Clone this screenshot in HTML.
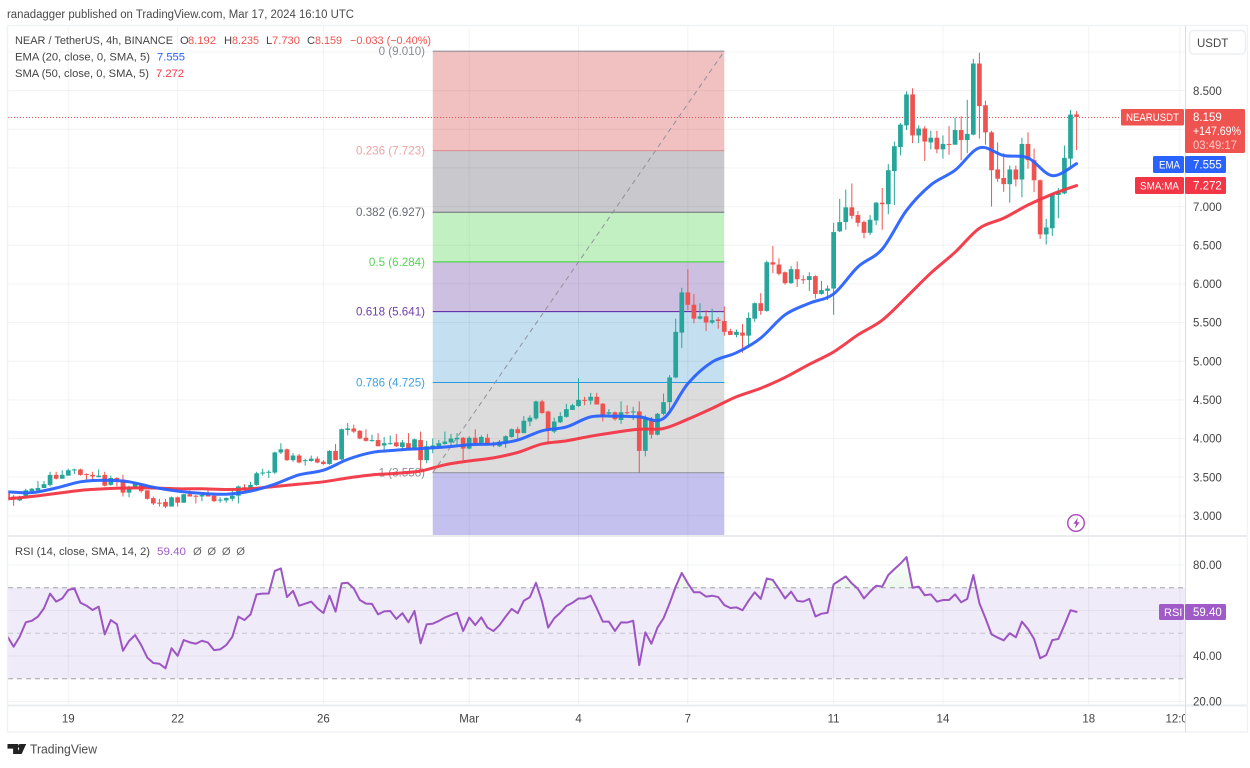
<!DOCTYPE html>
<html lang="en">
<head>
<meta charset="utf-8">
<title>NEAR / TetherUS chart</title>
<style>
html,body{margin:0;padding:0;background:#fff;}
body{width:1250px;height:768px;overflow:hidden;}
svg{display:block;font-family:"Liberation Sans",sans-serif;}
text{font-family:"Liberation Sans",sans-serif;}
</style>
</head>
<body>
<svg id="chart" xmlns="http://www.w3.org/2000/svg" width="1250" height="768" viewBox="0 0 1250 768">
  <defs>
    <clipPath id="main-clip"><rect x="8" y="26" width="1177" height="509"/></clipPath>
    <clipPath id="rsi-clip"><rect x="8" y="537" width="1177" height="168"/></clipPath>
    <clipPath id="time-clip"><rect x="8" y="706" width="1177" height="26"/></clipPath>
    <clipPath id="overbought-clip"><rect x="8" y="537" width="1177" height="51"/></clipPath>
    <linearGradient id="overbought-gradient" x1="0" y1="0" x2="0" y2="1">
      <stop offset="0" stop-color="#4caf50" stop-opacity="0.02"/>
      <stop offset="1" stop-color="#4caf50" stop-opacity="0.32"/>
    </linearGradient>
  </defs>

  <text x="7" y="18" font-size="11.5" fill="#4a4a4a" textLength="347" lengthAdjust="spacingAndGlyphs">ranadagger published on TradingView.com, Mar 17, 2024 16:10 UTC</text>

  <g id="main-layer" clip-path="url(#main-clip)"></g>
  <g id="rsi-layer" clip-path="url(#rsi-clip)"></g>

  <g fill="none">
    <rect x="7.5" y="25.5" width="1240" height="706.5" stroke="#f0f2f6" stroke-width="1.5"/>
    <line x1="8" y1="536" x2="1247" y2="536" stroke="#eaecf0" stroke-width="2"/>
    <line x1="8" y1="705.5" x2="1247" y2="705.5" stroke="#eaecf0" stroke-width="2"/>
    <line x1="1185.5" y1="26" x2="1185.5" y2="732" stroke="#d9dce3" stroke-width="1"/>
  </g>

  <g font-size="11.2">
    <text x="15" y="44" fill="#444" textLength="158" lengthAdjust="spacingAndGlyphs">NEAR / TetherUS, 4h, BINANCE</text>
    <text x="180" y="44" fill="#444">O</text>
    <text x="188" y="44" fill="#ef5350" textLength="28" lengthAdjust="spacingAndGlyphs">8.192</text>
    <text x="224" y="44" fill="#444">H</text>
    <text x="232" y="44" fill="#ef5350" textLength="27" lengthAdjust="spacingAndGlyphs">8.235</text>
    <text x="266" y="44" fill="#444">L</text>
    <text x="272" y="44" fill="#ef5350" textLength="28" lengthAdjust="spacingAndGlyphs">7.730</text>
    <text x="307" y="44" fill="#444">C</text>
    <text x="315" y="44" fill="#ef5350" textLength="27" lengthAdjust="spacingAndGlyphs">8.159</text>
    <text x="350" y="44" fill="#ef5350" textLength="81" lengthAdjust="spacingAndGlyphs">−0.033 (−0.40%)</text>
    <text x="15" y="60.5" fill="#444" textLength="135" lengthAdjust="spacingAndGlyphs">EMA (20, close, 0, SMA, 5)</text>
    <text x="157" y="60.5" fill="#2962ff" textLength="28" lengthAdjust="spacingAndGlyphs">7.555</text>
    <text x="15" y="77" fill="#444" textLength="134" lengthAdjust="spacingAndGlyphs">SMA (50, close, 0, SMA, 5)</text>
    <text x="156" y="77" fill="#f23645" textLength="28" lengthAdjust="spacingAndGlyphs">7.272</text>
    <text x="15" y="555" fill="#444" textLength="135" lengthAdjust="spacingAndGlyphs">RSI (14, close, SMA, 14, 2)</text>
    <text x="157" y="555" fill="#a05bc8" textLength="29" lengthAdjust="spacingAndGlyphs">59.40</text>
    <text x="193" y="555" fill="#666" textLength="52" lengthAdjust="spacing">Ø Ø Ø Ø</text>
  </g>

  <g id="axis-layer"></g>
  <g id="time-layer" clip-path="url(#time-clip)"></g>

  <g>
    <rect x="1189.5" y="30.5" width="56" height="23.5" rx="4" fill="#fff" stroke="#eceef2" stroke-width="1.5"/>
    <text x="1197" y="47" font-size="11.5" fill="#444">USDT</text>
  </g>

  <g font-size="11.5">
    <rect x="1121" y="109" width="63" height="16.5" rx="1.5" fill="#ef5350"/>
    <text x="1126" y="121" fill="#fff" font-size="11" textLength="53" lengthAdjust="spacingAndGlyphs">NEARUSDT</text>
    <rect x="1185" y="109" width="60" height="44" rx="1.5" fill="#ef5350"/>
    <text x="1193" y="121" fill="#fff">8.159</text>
    <text x="1193" y="135" fill="#fff" textLength="48" lengthAdjust="spacingAndGlyphs">+147.69%</text>
    <text x="1193" y="149" fill="#fbc9c7" textLength="44" lengthAdjust="spacingAndGlyphs">03:49:17</text>
    <rect x="1153" y="156" width="31" height="17" rx="1.5" fill="#2962ff"/>
    <text x="1159" y="168.5" fill="#fff" font-size="11" textLength="21" lengthAdjust="spacingAndGlyphs">EMA</text>
    <rect x="1185" y="156" width="41" height="17" rx="1.5" fill="#2962ff"/>
    <text x="1193" y="168.5" fill="#fff">7.555</text>
    <rect x="1135" y="177" width="49" height="17" rx="1.5" fill="#f23645"/>
    <text x="1140" y="189.5" fill="#fff" font-size="11" textLength="39" lengthAdjust="spacingAndGlyphs">SMA:MA</text>
    <rect x="1185" y="177" width="41" height="17" rx="1.5" fill="#f23645"/>
    <text x="1193" y="189.5" fill="#fff">7.272</text>
    <rect x="1159" y="604" width="25" height="16" rx="1.5" fill="#a05bc8"/>
    <text x="1164" y="616" fill="#fff" font-size="11">RSI</text>
    <rect x="1185" y="604" width="41" height="16" rx="1.5" fill="#a05bc8"/>
    <text x="1193" y="616" fill="#fff">59.40</text>
  </g>

  <g>
    <path d="M7.5 744h10.5v10h-4.9v-5.4H7.5z M26.2 744l-4.6 10h-5l4.6-10z" fill="#222"/>
    <circle cx="20.2" cy="746.2" r="2.2" fill="#222"/>
    <text x="30" y="753.5" font-size="13" fill="#4a4a4a" textLength="67" lengthAdjust="spacingAndGlyphs">TradingView</text>
  </g>
</svg>

<script>
// ---- bar indexing: bar 0 is Feb 19 00:00, one bar per 4 hours ----
const firstBar = -10;

const opens = [
3.29,3.25,3.20,3.25,3.32,3.33,3.36,3.40,3.53,3.48,
3.52,3.59,3.60,3.54,3.53,3.50,3.53,3.40,3.49,3.47,
3.30,3.36,3.40,3.33,3.23,3.17,3.18,3.12,3.24,3.17,
3.28,3.26,3.25,3.27,3.26,3.20,3.20,3.22,3.26,3.37,
3.35,3.40,3.55,3.56,3.56,3.82,3.86,3.72,3.78,3.71,
3.71,3.74,3.70,3.67,3.84,3.73,4.11,4.13,4.10,4.01,
3.97,3.98,3.91,3.93,3.95,3.89,3.94,3.88,3.98,3.72,
3.89,3.90,3.93,3.95,3.99,4.01,3.87,4.01,3.94,4.01,
3.93,3.90,3.94,4.02,4.12,4.07,4.22,4.26,4.48,4.35,
4.09,4.21,4.28,4.37,4.42,4.50,4.49,4.54,4.45,4.32,
4.34,4.24,4.34,4.34,4.35,3.84,4.25,4.05,4.32,4.47,
4.79,5.37,5.89,5.73,5.55,5.58,5.50,5.54,5.52,5.39,
5.34,5.37,5.33,5.55,5.75,5.65,6.28,6.25,6.15,6.01,
6.19,6.06,6.05,6.10,5.87,5.91,5.94,6.68,6.80,6.99,
6.89,6.80,6.66,6.82,7.05,7.03,7.46,7.77,8.05,8.45,
7.92,8.01,7.83,7.89,7.74,7.81,7.80,7.99,7.86,7.93,
8.85,8.31,7.96,7.48,7.37,7.29,7.48,7.35,7.81,7.60,
7.34,6.64,6.72,7.15,7.17,7.62,8.192];

const highs = [
3.31,3.27,3.26,3.35,3.36,3.45,3.45,3.57,3.57,3.59,
3.61,3.61,3.61,3.55,3.57,3.60,3.57,3.52,3.50,3.53,
3.39,3.43,3.42,3.33,3.25,3.22,3.22,3.25,3.25,3.28,
3.33,3.27,3.29,3.35,3.28,3.24,3.24,3.34,3.39,3.41,
3.44,3.57,3.61,3.59,3.83,3.94,3.87,3.81,3.80,3.74,
3.78,3.77,3.72,3.85,3.93,4.13,4.20,4.18,4.11,4.12,
4.05,4.07,4.02,4.04,4.06,3.98,4.07,4.00,4.09,3.97,
4.00,3.98,4.09,4.06,4.07,4.02,4.03,4.12,4.04,4.06,
3.96,3.98,4.04,4.13,4.15,4.29,4.30,4.49,4.50,4.36,
4.27,4.34,4.45,4.45,4.78,4.54,4.59,4.59,4.46,4.38,
4.35,4.48,4.43,4.41,4.48,4.30,4.28,4.33,4.58,4.82,
5.55,5.95,6.19,5.87,5.75,5.66,5.68,5.57,5.71,5.42,
5.41,5.48,5.63,5.76,5.88,6.30,6.49,6.33,6.16,6.23,
6.29,6.11,6.15,6.11,6.04,5.98,6.79,7.10,7.22,7.30,
6.94,6.82,6.89,7.06,7.24,7.55,7.84,8.08,8.49,8.53,
8.05,8.04,7.98,7.98,7.92,8.04,8.15,8.17,8.38,8.91,
8.99,8.37,7.98,7.83,7.69,7.53,7.53,7.89,7.96,7.75,
7.35,6.84,7.17,7.24,7.79,8.25,8.235];

const lows = [
3.21,3.13,3.19,3.24,3.29,3.33,3.36,3.38,3.47,3.48,
3.52,3.54,3.52,3.47,3.47,3.50,3.38,3.39,3.38,3.25,
3.24,3.35,3.30,3.21,3.14,3.12,3.10,3.12,3.12,3.17,
3.25,3.16,3.19,3.25,3.18,3.17,3.17,3.19,3.16,3.33,
3.32,3.39,3.52,3.49,3.54,3.80,3.71,3.70,3.68,3.65,
3.70,3.68,3.66,3.66,3.72,3.72,4.04,4.07,3.99,3.96,
3.96,3.90,3.85,3.92,3.89,3.84,3.85,3.86,3.59,3.68,
3.81,3.89,3.92,3.90,3.89,3.72,3.86,3.92,3.93,3.91,
3.89,3.89,3.88,4.01,4.00,4.07,4.16,4.24,4.32,3.93,
4.07,4.20,4.27,4.37,4.41,4.43,4.44,4.44,4.22,4.31,
4.23,4.19,4.31,4.24,3.56,3.77,4.00,4.04,4.30,4.32,
4.78,5.17,5.66,5.49,5.54,5.39,5.48,5.42,5.33,5.34,
5.31,5.11,5.20,5.51,5.60,5.64,6.14,6.11,5.99,6.00,
5.96,6.00,5.91,5.81,5.86,5.79,5.60,6.67,6.70,6.84,
6.74,6.59,6.63,6.76,6.70,6.90,7.02,7.66,7.99,7.82,
7.82,7.59,7.74,7.69,7.62,7.67,7.80,7.60,7.69,7.92,
7.88,7.80,7.00,7.32,7.19,7.05,7.26,7.12,7.49,7.19,
6.58,6.51,6.62,6.85,7.16,7.51,7.73];

const closes = [
3.22,3.21,3.25,3.33,3.35,3.36,3.41,3.53,3.48,3.53,
3.59,3.60,3.53,3.53,3.51,3.52,3.39,3.49,3.47,3.30,
3.37,3.42,3.32,3.22,3.16,3.16,3.12,3.24,3.17,3.28,
3.25,3.25,3.27,3.25,3.19,3.21,3.23,3.26,3.38,3.34,
3.40,3.55,3.56,3.57,3.82,3.86,3.72,3.78,3.69,3.72,
3.74,3.69,3.67,3.84,3.72,4.12,4.13,4.09,4.00,3.97,
3.98,3.90,3.94,3.94,3.90,3.95,3.87,3.99,3.72,3.90,
3.91,3.94,3.96,4.00,4.01,3.87,4.01,3.94,4.02,3.92,
3.91,3.96,4.03,4.12,4.07,4.23,4.27,4.48,4.33,4.10,
4.22,4.29,4.38,4.43,4.50,4.49,4.54,4.44,4.31,4.34,
4.25,4.34,4.33,4.35,3.84,4.26,4.05,4.32,4.47,4.79,
5.38,5.89,5.73,5.55,5.58,5.50,5.53,5.52,5.38,5.34,
5.38,5.33,5.56,5.75,5.65,6.28,6.25,6.13,6.01,6.19,
6.06,6.05,6.10,5.87,5.92,5.94,6.67,6.80,6.99,6.88,
6.79,6.66,6.83,7.05,7.03,7.47,7.78,8.06,8.45,7.92,
8.01,7.84,7.89,7.74,7.81,7.80,7.99,7.86,7.94,8.85,
8.30,7.96,7.47,7.36,7.29,7.48,7.35,7.81,7.60,7.34,
6.64,6.73,7.16,7.18,7.63,8.19,8.159];

// moving averages, one reading every maStep bars
const maStep = 4;
const emaValues = [
3.31,3.30,3.36,3.44,3.46,3.44,3.37,3.32,3.29,3.28,
3.32,3.41,3.53,3.59,3.73,3.82,3.85,3.87,3.89,3.92,
3.93,3.98,4.10,4.15,4.28,4.29,4.28,4.26,4.71,4.99,
5.11,5.30,5.60,5.75,5.87,6.22,6.45,6.95,7.28,7.47,
7.76,7.66,7.63,7.40,7.555];
const smaValues = [
3.22,3.25,3.29,3.33,3.35,3.36,3.36,3.35,3.35,3.34,
3.35,3.38,3.41,3.44,3.49,3.53,3.55,3.58,3.66,3.71,
3.75,3.82,3.93,3.97,4.03,4.08,4.12,4.13,4.25,4.39,
4.54,4.65,4.79,4.96,5.12,5.34,5.53,5.83,6.14,6.41,
6.72,6.85,7.02,7.16,7.272];

// RSI, one reading per bar
const rsiValues = [
48.5,44.1,48.5,54.8,55.5,57.3,61,67.4,63.9,65.3,
69,69.7,63.4,62.1,60.2,61.7,49.5,55.8,54,42.3,
46.6,49.2,44.8,39.3,36.9,36.6,34.6,43.4,40.1,47,
46,45.4,46.7,45.9,42.6,42.9,44.8,48.4,57.3,55.8,
58.3,67.1,67.4,67.5,77.4,78.5,65.9,68.6,62.1,63,
63.9,61,58.9,66.5,59.5,71.9,72.2,69.7,64.6,63,
62.9,58.3,59.6,59.8,56.3,58.8,54.8,59.8,45.6,53.9,
54.2,55.4,56.9,58,59,51,56.9,53.6,57,52.5,
51,53.6,57.3,60.7,58.8,64.3,65.9,72.2,63.9,52.5,
56.6,59,62,63.4,65.3,65.3,66.5,61,55.1,55.1,
51,54.8,54.7,55.5,36,50.4,45.4,52.5,56.6,63.2,
70.5,76.5,71.9,68,68,66.1,66.5,65.9,62.4,61.1,
61.4,60.1,64.3,68,65.1,74.1,73.4,69.5,65.3,68.3,
64.2,63.9,65.1,57.4,58.6,59,71.5,73.3,75,71.9,
69.5,65.3,68.3,70.9,70.5,75.6,78.2,80.6,83.5,70,
70.5,66.7,67.1,63.9,64.6,64.6,67.1,63.6,65.1,75.6,
63.2,56.6,49.5,48.1,46.9,50,48.2,55.1,51.9,47.5,
39,40.4,47,47.5,53.6,60.1,59.4];

// Fibonacci retracement tool
const fibRatios = [0, 0.236, 0.382, 0.5, 0.618, 0.786, 1];
const fibPrices = [9.010, 7.723, 6.927, 6.284, 5.641, 4.725, 3.558];
const fibStartBar = 60;
const fibEndBar = 108;
const fibFills = ["#f1c1c1", "#c9c9cd", "#c3f0c3", "#cdbfe0", "#c3dff0", "#dcdcdc", "#c4c1ee"];
const fibLineColors = ["#8a8d96", "#d98c8c", "#6a6f7a", "#36cc36", "#5a1ea0", "#2a9ade", "#8a8d96"];
const fibTextColors = ["#8a8d96", "#eea3a3", "#666a74", "#55d455", "#7040a8", "#3fa2dc", "#8a8d96"];

// axes
const priceTicks = [8.5, 7, 6.5, 6, 5.5, 5, 4.5, 4, 3.5, 3];
const priceGrid = [9, 8.5, 8, 7.5, 7, 6.5, 6, 5.5, 5, 4.5, 4, 3.5, 3];
const rsiTicks = [80, 40, 20];
const rsiGrid = [80, 60, 40, 20];
const rsiBands = [70, 50, 30];
const timeTickBars = [0, 18, 42, 66, 84, 102, 126, 144, 168, 183];
const timeTickLabels = ["19", "22", "26", "Mar", "4", "7", "11", "14", "18", "12:00"];
const lastPrice = 8.159;

// ---- axis functions ----
function xOf(bar) { return 68.3 + 6.074 * bar; }
function yOf(price) { return 472.7 - (price - 3.558) * 77.32; }
function yRsi(v) { return 565 + (80 - v) * 2.275; }

const NS = "http://www.w3.org/2000/svg";
function mk(parent, tag, props) {
  const el = document.createElementNS(NS, tag);
  for (const k in props) el.setAttribute(k, props[k]);
  parent.appendChild(el);
  return el;
}
function smoothPath(pts) {
  let d = "M" + pts[0][0].toFixed(2) + " " + pts[0][1].toFixed(2);
  for (let i = 0; i < pts.length - 1; i++) {
    const p0 = pts[Math.max(i - 1, 0)], p1 = pts[i], p2 = pts[i + 1], p3 = pts[Math.min(i + 2, pts.length - 1)];
    const c1x = p1[0] + (p2[0] - p0[0]) / 6, c1y = p1[1] + (p2[1] - p0[1]) / 6;
    const c2x = p2[0] - (p3[0] - p1[0]) / 6, c2y = p2[1] - (p3[1] - p1[1]) / 6;
    d += "C" + c1x.toFixed(2) + " " + c1y.toFixed(2) + " " + c2x.toFixed(2) + " " + c2y.toFixed(2) + " " + p2[0].toFixed(2) + " " + p2[1].toFixed(2);
  }
  return d;
}

const mainLayer = document.getElementById("main-layer");
const rsiLayer = document.getElementById("rsi-layer");
const axisLayer = document.getElementById("axis-layer");
const timeLayer = document.getElementById("time-layer");

// ---- Fibonacci fills (below grid) ----
const fibX0 = xOf(fibStartBar), fibX1 = xOf(fibEndBar);
fibPrices.forEach(function (price, i) {
  const top = yOf(price);
  const bottom = i < fibPrices.length - 1 ? yOf(fibPrices[i + 1]) : 540;
  const band = mk(mainLayer, "rect", { x: fibX0, y: top, width: fibX1 - fibX0, height: bottom - top, fill: fibFills[i] });
  
  
});

// ---- price grid ----
priceGrid.forEach(function (p) {
  const line = mk(mainLayer, "line", { x1: 8, x2: 1185, y1: yOf(p), y2: yOf(p), stroke: "rgba(42,46,57,0.06)", "stroke-width": 1 });
  
  
});
timeTickBars.forEach(function (b) {
  const line = mk(mainLayer, "line", { x1: xOf(b), x2: xOf(b), y1: 26, y2: 535, stroke: "rgba(42,46,57,0.06)", "stroke-width": 1 });
  
  
});

// ---- Fibonacci lines and labels ----
fibPrices.forEach(function (price, i) {
  const line = mk(mainLayer, "line", { x1: fibX0, x2: fibX1, y1: yOf(price), y2: yOf(price), stroke: fibLineColors[i], "stroke-width": 1 });
  
  
  const label = mk(mainLayer, "text", { x: 425, y: yOf(price) + 4, "text-anchor": "end", "font-size": 11.6, fill: fibTextColors[i] });
  
  
  label.textContent = fibRatios[i] + " (" + price.toFixed(3) + ")";
});
const trend = mk(mainLayer, "line", { x1: fibX0, y1: yOf(fibPrices[6]), x2: fibX1, y2: yOf(fibPrices[0]), stroke: "#8f929b", "stroke-width": 1, "stroke-dasharray": "5 4" });



// ---- last price line ----
const lastLine = mk(mainLayer, "line", { x1: 8, x2: 1121, y1: yOf(lastPrice) + 0.5, y2: yOf(lastPrice) + 0.5, stroke: "#ef5350", "stroke-width": 1, "stroke-dasharray": "1 2" });



// ---- candles ----
opens.forEach(function (open, n) {
  const bar = firstBar + n;
  const high = highs[n], low = lows[n], close = closes[n];
  const color = close >= open ? "#26a69a" : "#ef5350";
  const x = xOf(bar);
  const g = mk(mainLayer, "g", {});
  
  
  const wick = mk(g, "line", { x1: x, x2: x, y1: yOf(high), y2: yOf(low), stroke: color, "stroke-width": 1 });
  
  
  const top = yOf(Math.max(open, close));
  const h = Math.max(Math.abs(yOf(open) - yOf(close)), 1);
  const body = mk(g, "rect", { x: x - 2.35, y: top, width: 4.7, height: h, fill: color });
  
  
});

// ---- moving averages ----
function maPoints(values) {
  return values.map(function (v, k) { return [xOf(firstBar + k * maStep), yOf(v)]; });
}
const smaLine = mk(mainLayer, "path", { d: smoothPath(maPoints(smaValues)), fill: "none", stroke: "#f23645", "stroke-width": 3, "stroke-linejoin": "round", "stroke-linecap": "round", opacity: 0.95 });


const emaLine = mk(mainLayer, "path", { d: smoothPath(maPoints(emaValues)), fill: "none", stroke: "#2962ff", "stroke-width": 3, "stroke-linejoin": "round", "stroke-linecap": "round", opacity: 0.95 });



// ---- alert icon ----
const boltRing = mk(mainLayer, "circle", { cx: 1076, cy: 523, r: 8.3, fill: "#fff", stroke: "#ab47bc", "stroke-width": 1.4 });


const bolt = mk(mainLayer, "path", { d: "M1078 517.5l-4.6 6.2h2.7l-1.2 4.8 4.7-6.3h-2.8z", fill: "#ab47bc" });



// ---- RSI pane ----
const rsiBandRect = mk(rsiLayer, "rect", { x: 8, y: yRsi(rsiBands[0]), width: 1177, height: yRsi(rsiBands[2]) - yRsi(rsiBands[0]), fill: "#f0ebf8" });


rsiGrid.forEach(function (v) {
  const line = mk(rsiLayer, "line", { x1: 8, x2: 1185, y1: yRsi(v), y2: yRsi(v), stroke: "rgba(42,46,57,0.06)", "stroke-width": 1 });
  
  
});
timeTickBars.forEach(function (b) {
  const line = mk(rsiLayer, "line", { x1: xOf(b), x2: xOf(b), y1: 537, y2: 705, stroke: "rgba(42,46,57,0.06)", "stroke-width": 1 });
  
  
});
rsiBands.forEach(function (v, i) {
  const line = mk(rsiLayer, "line", { x1: 8, x2: 1185, y1: yRsi(v), y2: yRsi(v), stroke: i === 1 ? "#c4c5cb" : "#a2a3ab", "stroke-width": 1, "stroke-dasharray": "5 4" });
  
  
});
const rsiPts = rsiValues.map(function (v, n) { return [xOf(firstBar + n), yRsi(v)]; });
const rsiLinePts = rsiPts.map(function (p) { return p[0].toFixed(2) + "," + p[1].toFixed(2); }).join(" ");
const obFill = mk(rsiLayer, "polygon", {
  points: xOf(firstBar) + "," + yRsi(70) + " " + rsiLinePts + " " + xOf(firstBar + rsiValues.length - 1) + "," + yRsi(70),
  fill: "url(#overbought-gradient)", "clip-path": "url(#overbought-clip)"
});


const rsiLine = mk(rsiLayer, "polyline", { points: rsiLinePts, fill: "none", stroke: "#9d55c4", "stroke-width": 2, "stroke-linejoin": "round", "stroke-linecap": "round" });



// ---- axis labels ----
priceTicks.forEach(function (p) {
  const t = mk(axisLayer, "text", { x: 1193, y: yOf(p) + 4.2, "font-size": 11.5, fill: "#444" });
  
  
  t.textContent = p.toFixed(3);
});
rsiTicks.forEach(function (v) {
  const t = mk(axisLayer, "text", { x: 1193, y: yRsi(v) + 4.2, "font-size": 11.5, fill: "#444" });
  
  
  t.textContent = v.toFixed(2);
});
timeTickBars.forEach(function (b, i) {
  const t = mk(timeLayer, "text", { x: xOf(b), y: 722.5, "text-anchor": "middle", "font-size": 11.5, fill: "#444" });
  
  
  t.textContent = timeTickLabels[i];
});
</script>
</body>
</html>
